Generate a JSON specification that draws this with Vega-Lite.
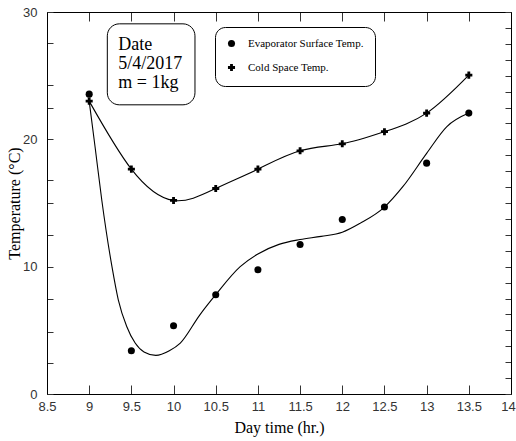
{
  "$schema": "https://vega.github.io/schema/vega-lite/v6.json",
  "width": 464,
  "height": 382,
  "autosize": {"type": "none"},
  "padding": {"left": 47, "top": 12, "right": 5, "bottom": 47},
  "background": "white",
  "datasets": {
    "measured": [
      {"time": 9.0, "temp": 23.55, "series": "Evaporator Surface Temp."},
      {"time": 9.5, "temp": 3.4, "series": "Evaporator Surface Temp."},
      {"time": 10.0, "temp": 5.36, "series": "Evaporator Surface Temp."},
      {"time": 10.5, "temp": 7.79, "series": "Evaporator Surface Temp."},
      {"time": 11.0, "temp": 9.76, "series": "Evaporator Surface Temp."},
      {"time": 11.5, "temp": 11.74, "series": "Evaporator Surface Temp."},
      {"time": 12.0, "temp": 13.7, "series": "Evaporator Surface Temp."},
      {"time": 12.5, "temp": 14.68, "series": "Evaporator Surface Temp."},
      {"time": 13.0, "temp": 18.13, "series": "Evaporator Surface Temp."},
      {"time": 13.5, "temp": 22.06, "series": "Evaporator Surface Temp."},
      {"time": 9.0, "temp": 23.0, "series": "Cold Space Temp."},
      {"time": 9.5, "temp": 17.66, "series": "Cold Space Temp."},
      {"time": 10.0, "temp": 15.2, "series": "Cold Space Temp."},
      {"time": 10.5, "temp": 16.14, "series": "Cold Space Temp."},
      {"time": 11.0, "temp": 17.66, "series": "Cold Space Temp."},
      {"time": 11.5, "temp": 19.1, "series": "Cold Space Temp."},
      {"time": 12.0, "temp": 19.65, "series": "Cold Space Temp."},
      {"time": 12.5, "temp": 20.6, "series": "Cold Space Temp."},
      {"time": 13.0, "temp": 22.06, "series": "Cold Space Temp."},
      {"time": 13.5, "temp": 25.04, "series": "Cold Space Temp."}
    ],
    "evapFit": [
      {"time": 9.0, "temp": 23.0},
      {"time": 9.07, "temp": 19.4},
      {"time": 9.15, "temp": 15.2},
      {"time": 9.27, "temp": 10.0},
      {"time": 9.345, "temp": 7.4},
      {"time": 9.445, "temp": 5.3},
      {"time": 9.545, "temp": 4.0},
      {"time": 9.65, "temp": 3.3},
      {"time": 9.79, "temp": 3.03},
      {"time": 9.95, "temp": 3.4},
      {"time": 10.08, "temp": 4.0},
      {"time": 10.31, "temp": 6.2},
      {"time": 10.5, "temp": 7.8},
      {"time": 10.79, "temp": 10.0},
      {"time": 11.0, "temp": 11.0},
      {"time": 11.25, "temp": 11.75},
      {"time": 11.5, "temp": 12.13},
      {"time": 11.75, "temp": 12.38},
      {"time": 12.0, "temp": 12.7},
      {"time": 12.21, "temp": 13.4},
      {"time": 12.5, "temp": 14.68},
      {"time": 12.72, "temp": 16.3},
      {"time": 13.0, "temp": 18.9},
      {"time": 13.24, "temp": 21.0},
      {"time": 13.5, "temp": 22.06}
    ],
    "noteBox": [
      {"x1": 9.215, "x2": 10.254, "y1": 22.71, "y2": 29.07}
    ],
    "noteText": [
      {"x": 9.345, "y": 27.03, "line": "Date"},
      {"x": 9.345, "y": 25.54, "line": "5/4/2017"},
      {"x": 9.345, "y": 24.05, "line": "m = 1kg"}
    ]
  },
  "layer": [
    {
      "data": {"name": "evapFit"},
      "mark": {"type": "line", "interpolate": "monotone", "color": "black", "strokeWidth": 1.1},
      "encoding": {
        "x": {
          "field": "time", "type": "quantitative",
          "scale": {"domain": [8.5, 14], "nice": false, "zero": false},
          "axis": {
            "orient": "bottom",
            "values": [8.5, 9, 9.5, 10, 10.5, 11, 11.5, 12, 12.5, 13, 13.5, 14],
            "format": "~g",
            "tickSize": -9,
            "labelPadding": 15,
            "labelFlush": false,
            "labelOverlap": false,
            "labelOffset": {"condition": {"test": "datum.value === 14", "value": -3}, "value": 0},
            "title": "Day time (hr.)",
            "titlePadding": 6
          }
        },
        "y": {
          "field": "temp", "type": "quantitative",
          "scale": {"domain": [0, 30], "nice": false, "zero": false},
          "axis": {
            "orient": "left",
            "values": [0, 2.4, 4.9, 7.5, 10, 12.5, 15, 16.8, 20, 22.5, 24.3, 27.6, 30],
            "labelExpr": "datum.value % 10 === 0 ? format(datum.value, 'd') : ''",
            "tickSize": -6,
            "labelPadding": 16,
            "labelOverlap": false,
            "title": "Temperature (°C)",
            "titlePadding": 0
          }
        }
      }
    },
    {
      "data": {"name": "measured"},
      "transform": [{"filter": "datum.series === 'Cold Space Temp.'"}],
      "mark": {"type": "line", "interpolate": "natural", "color": "black", "strokeWidth": 1.1},
      "encoding": {
        "x": {
          "field": "time", "type": "quantitative",
          "scale": {"domain": [8.5, 14], "nice": false, "zero": false},
          "axis": {
            "orient": "top",
            "values": [8.5, 9, 9.5, 10, 10.5, 11, 11.5, 12, 12.5, 13, 13.5, 14],
            "labels": false,
            "tickSize": -9,
            "title": null
          }
        },
        "y": {
          "field": "temp", "type": "quantitative",
          "scale": {"domain": [0, 30], "nice": false, "zero": false},
          "axis": {
            "orient": "right",
            "values": [0, 1.25, 2.5, 3.75, 5, 6.25, 7.5, 8.75, 10, 11.25, 12.5, 13.75, 15, 16.25, 17.5, 18.75, 20, 21.25, 22.5, 23.75, 25, 26.25, 27.5, 28.75, 30],
            "labels": false,
            "tickSize": -6,
            "title": null
          }
        }
      }
    },
    {
      "data": {"name": "measured"},
      "mark": {"type": "point", "filled": true, "color": "black", "opacity": 1, "size": 50},
      "encoding": {
        "x": {"field": "time", "type": "quantitative", "scale": {"domain": [8.5, 14], "nice": false, "zero": false}, "axis": null},
        "y": {"field": "temp", "type": "quantitative", "scale": {"domain": [0, 30], "nice": false, "zero": false}, "axis": null},
        "shape": {
          "field": "series", "type": "nominal",
          "scale": {"domain": ["Evaporator Surface Temp.", "Cold Space Temp."], "range": ["circle", "cross"]},
          "legend": {
            "orient": "none",
            "legendX": 168,
            "legendY": 15,
            "title": null,
            "padding": 11,
            "rowPadding": 9,
            "labelOffset": 11,
            "symbolSize": 50,
            "symbolFillColor": "black",
            "symbolStrokeColor": "black",
            "symbolOpacity": 1,
            "strokeColor": "black",
            "fillColor": "white",
            "cornerRadius": 10,
            "labelFont": "Liberation Serif",
            "labelFontSize": 11,
            "labelColor": "black"
          }
        }
      }
    },
    {
      "data": {"name": "noteBox"},
      "mark": {"type": "rect", "fill": "white", "stroke": "black", "strokeWidth": 1, "cornerRadius": 12},
      "encoding": {
        "x": {"field": "x1", "type": "quantitative", "scale": {"domain": [8.5, 14], "nice": false, "zero": false}, "axis": null},
        "x2": {"field": "x2"},
        "y": {"field": "y1", "type": "quantitative", "scale": {"domain": [0, 30], "nice": false, "zero": false}, "axis": null},
        "y2": {"field": "y2"}
      }
    },
    {
      "data": {"name": "noteText"},
      "mark": {"type": "text", "align": "left", "baseline": "alphabetic", "font": "Liberation Serif", "fontSize": 18, "color": "black"},
      "encoding": {
        "x": {"field": "x", "type": "quantitative", "scale": {"domain": [8.5, 14], "nice": false, "zero": false}, "axis": null},
        "y": {"field": "y", "type": "quantitative", "scale": {"domain": [0, 30], "nice": false, "zero": false}, "axis": null},
        "text": {"field": "line"}
      }
    }
  ],
  "resolve": {"axis": {"x": "independent", "y": "independent"}},
  "config": {
    "view": {"stroke": null},
    "axis": {
      "grid": false,
      "domainColor": "black",
      "domainWidth": 1,
      "tickColor": "#333333",
      "tickWidth": 1,
      "labelFont": "Liberation Sans Narrow, Liberation Sans, Arial, sans-serif",
      "labelFontSize": 13,
      "labelColor": "#333333",
      "titleFont": "Liberation Serif",
      "titleFontSize": 16,
      "titleFontWeight": "normal",
      "titleColor": "black"
    }
  }
}
